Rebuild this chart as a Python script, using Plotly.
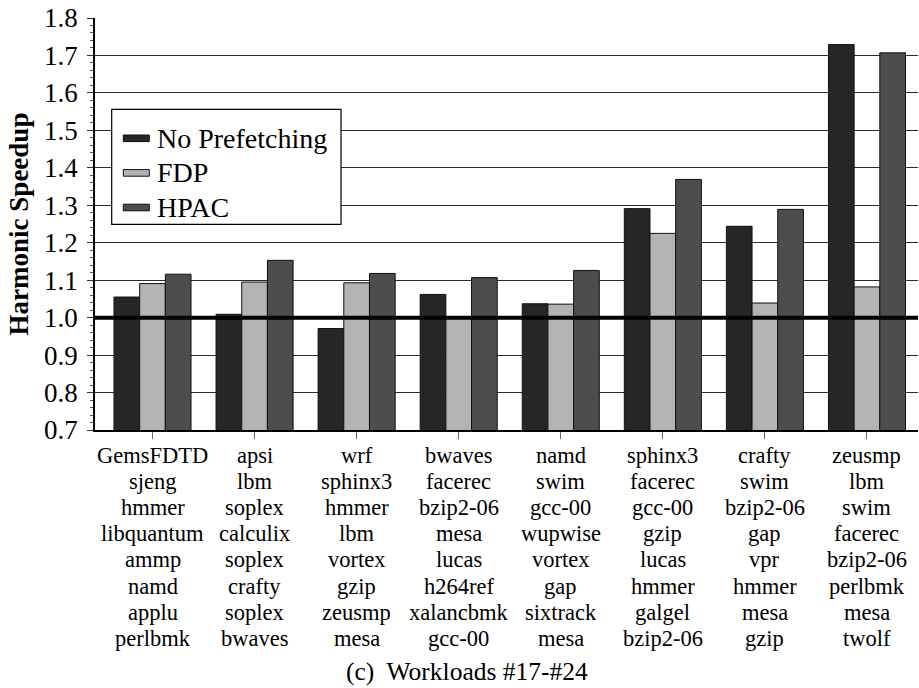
import plotly.graph_objects as go

# Workload mixes (#17-#24): eight benchmarks per mix, listed top to bottom
workloads = [
    ["GemsFDTD", "sjeng", "hmmer", "libquantum", "ammp", "namd", "applu", "perlbmk"],
    ["apsi", "lbm", "soplex", "calculix", "soplex", "crafty", "soplex", "bwaves"],
    ["wrf", "sphinx3", "hmmer", "lbm", "vortex", "gzip", "zeusmp", "mesa"],
    ["bwaves", "facerec", "bzip2-06", "mesa", "lucas", "h264ref", "xalancbmk", "gcc-00"],
    ["namd", "swim", "gcc-00", "wupwise", "vortex", "gap", "sixtrack", "mesa"],
    ["sphinx3", "facerec", "gcc-00", "gzip", "lucas", "hmmer", "galgel", "bzip2-06"],
    ["crafty", "swim", "bzip2-06", "gap", "vpr", "hmmer", "mesa", "gzip"],
    ["zeusmp", "lbm", "swim", "facerec", "bzip2-06", "perlbmk", "mesa", "twolf"],
]
categories = ["W17", "W18", "W19", "W20", "W21", "W22", "W23", "W24"]

series_names = ["No Prefetching", "FDP", "HPAC"]
no_prefetching = [1.055, 1.009, 0.971, 1.062, 1.037, 1.291, 1.244, 1.729]
fdp = [1.091, 1.095, 1.093, 0.998, 1.036, 1.225, 1.039, 1.082]
hpac = [1.116, 1.153, 1.118, 1.107, 1.126, 1.369, 1.289, 1.707]
series_colors = ["#262626", "#b3b3b3", "#4d4d4d"]

y_ticks = [0.7, 0.8, 0.9, 1.0, 1.1, 1.2, 1.3, 1.4, 1.5, 1.6, 1.7, 1.8]
caption = "(c)  Workloads #17-#24"

FONT = "Liberation Serif"

W, H = 919, 688
ml, mr, mt, mb = 95, 1, 18, 258
pw, ph = W - ml - mr, H - mt - mb


def px_x(v):
    """Pixel column -> paper x fraction."""
    return (v - ml) / pw


def px_y(v):
    """Pixel row -> paper y fraction."""
    return 1 - (v - mt) / ph


fig = go.Figure()
for name, vals, col in zip(series_names, [no_prefetching, fdp, hpac], series_colors):
    fig.add_trace(go.Bar(
        x=categories, y=vals, name=name,
        marker=dict(color=col, line=dict(color="#111111", width=1)),
        showlegend=False,
    ))

shapes = []
# baseline at speedup 1.0
shapes.append(dict(type="line", xref="paper", yref="y", x0=0, x1=1, y0=1.0, y1=1.0,
                   line=dict(color="black", width=4), layer="above"))

# legend box with bar swatches
shapes.append(dict(type="rect", xref="paper", yref="paper",
                   x0=px_x(111.7), x1=px_x(341.0), y0=px_y(224.3), y1=px_y(109.3),
                   fillcolor="white", line=dict(color="black", width=1.2), layer="above"))

annotations = []
for k, (name, col) in enumerate(zip(series_names, series_colors)):
    cy = 138.3 + 34.6 * k
    shapes.append(dict(type="rect", xref="paper", yref="paper",
                       x0=px_x(123.3), x1=px_x(149.3), y0=px_y(cy + 3.3), y1=px_y(cy - 3.3),
                       fillcolor=col, line=dict(color="#111111", width=1), layer="above"))
    annotations.append(dict(
        x=px_x(155), xref="paper", y=px_y(cy), yref="paper", xanchor="left", yanchor="middle",
        text=name, showarrow=False, font=dict(family=FONT, size=28, color="black"),
    ))

# benchmark names under each workload, one row per benchmark
row_step = 26.2
for cat, mix in zip(categories, workloads):
    for j, bench in enumerate(mix):
        annotations.append(dict(
            x=cat, xref="x", y=0, yref="paper", yanchor="middle", xanchor="center",
            yshift=-25 - row_step * j, text=bench, showarrow=False,
            font=dict(family=FONT, size=22.5, color="black"),
        ))

annotations.append(dict(
    x=0.4515, xref="paper", y=-0.587, yref="paper", xanchor="center", yanchor="middle",
    text=caption, showarrow=False, font=dict(family=FONT, size=25.5, color="black"),
))

fig.update_layout(
    width=W, height=H,
    margin=dict(l=ml, r=mr, t=mt, b=mb, autoexpand=False),
    paper_bgcolor="white", plot_bgcolor="white",
    barmode="group", bargap=0.245, bargroupgap=0,
    font=dict(family=FONT, color="black"),
    shapes=shapes, annotations=annotations,
    showlegend=False,
)
fig.update_xaxes(
    showticklabels=False, ticks="outside", ticklen=7, tickcolor="#666666",
    showline=True, linecolor="black", linewidth=2, showgrid=False,
)
fig.update_yaxes(
    range=[0.7, 1.8], tickvals=y_ticks, ticktext=[f"{v:.1f}" for v in y_ticks],
    ticks="outside", ticklen=6, tickcolor="#333333",
    minor=dict(dtick=0.02, ticks="outside", ticklen=3, tickcolor="#555555", showgrid=False),
    showline=True, linecolor="black", linewidth=1.5,
    showgrid=True, gridcolor="#2b2b2b", gridwidth=1,
    tickfont=dict(family=FONT, size=27, color="black"), ticklabelstandoff=4,
    title=dict(text="Harmonic Speedup",
               font=dict(family=FONT, size=27, color="black", weight="bold"), standoff=8),
    zeroline=False,
)

fig.write_html("out.html")
